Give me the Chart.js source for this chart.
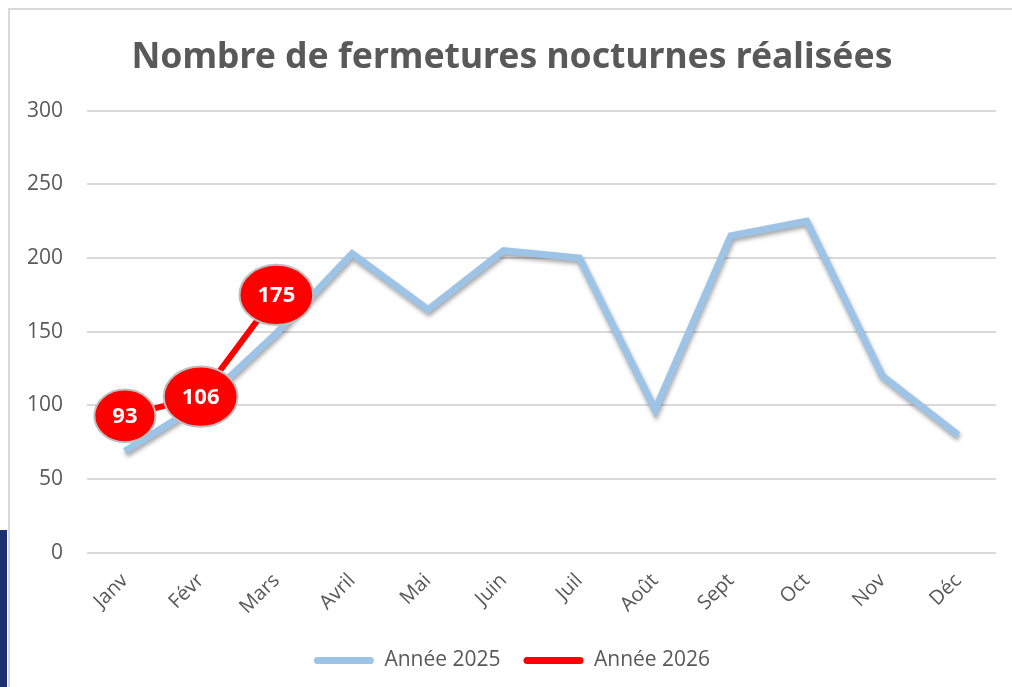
<!DOCTYPE html>
<html lang="fr">
<head>
<meta charset="UTF-8" />
<title>Nombre de fermetures nocturnes réalisées</title>
<style>
  html, body { margin: 0; padding: 0; background: #fff; width: 1012px; height: 687px; overflow: hidden; }
  .strip { position: absolute; left: 0; top: 530px; width: 7px; height: 157px; background: #1f3070; }
  .frame { position: absolute; left: 8px; top: 8px; width: 1010px; height: 690px; border-left: 2px solid #d9d9d9; border-top: 2px solid #d9d9d9; }
  .wrap { position: absolute; left: 10px; top: 10px; width: 1002px; height: 677px; }
  canvas { display: block; }
</style>
</head>
<body>
<div class="strip"></div>
<div class="frame"></div>
<div class="wrap"><canvas id="chart" width="1002" height="677"></canvas></div>
<script src="https://cdn.jsdelivr.net/npm/chart.js"></script>
<script>
const months = ['Janv', 'Févr', 'Mars', 'Avril', 'Mai', 'Juin', 'Juil', 'Août', 'Sept', 'Oct', 'Nov', 'Déc'];
const values2025 = [69, 101, 149, 203, 165, 205, 200, 97, 215, 225, 120, 80];
const values2026 = [93, 106, 175];
const yTicks = [0, 50, 100, 150, 200, 250, 300];

const blue = '#9dc3e6';
const red = '#ff0000';
const grey = '#595959';
const font = "'Open Sans', 'DejaVu Sans', sans-serif";
const titleFont = "'Noto Sans', 'DejaVu Sans', sans-serif";

// ombre légère sous la courbe 2025
const shadowPlugin = {
  id: 'shadow',
  beforeDatasetDraw(chart, args) {
    if (args.meta.label !== 'Année 2025') return;
    const ctx = chart.ctx;
    ctx.save();
    ctx.shadowColor = 'rgba(0, 0, 0, 0.35)';
    ctx.shadowBlur = 4;
    ctx.shadowOffsetX = 1;
    ctx.shadowOffsetY = 3;
  },
  afterDatasetDraw(chart, args) {
    if (args.meta.label !== 'Année 2025') return;
    chart.ctx.restore();
  }
};

// étiquettes ovales rouges pour 2026
const bubblePlugin = {
  id: 'bubbles',
  afterDatasetsDraw(chart) {
    const ctx = chart.ctx;
    const idx = chart.data.datasets.findIndex(d => d.label === 'Année 2026');
    const meta = chart.getDatasetMeta(idx);
    ctx.save();
    ctx.font = `bold 22px ${font}`;
    ctx.textAlign = 'center';
    ctx.textBaseline = 'middle';
    meta.data.forEach((pt, i) => {
      const txt = String(values2026[i]);
      const w = ctx.measureText(txt).width;
      const rx = w / 2 + 18;
      const ry = rx * 0.6 + 8;
      ctx.beginPath();
      ctx.ellipse(pt.x, pt.y, rx, ry, 0, 0, Math.PI * 2);
      ctx.fillStyle = red;
      ctx.fill();
      ctx.lineWidth = 2;
      ctx.strokeStyle = '#bfbfbf';
      ctx.stroke();
      ctx.fillStyle = '#ffffff';
      ctx.fillText(txt, pt.x, pt.y + 1);
    });
    ctx.restore();
  }
};

new Chart(document.getElementById('chart').getContext('2d'), {
  type: 'line',
  data: {
    labels: months,
    datasets: [
      {
        label: 'Année 2026',
        data: values2026,
        borderColor: red,
        backgroundColor: red,
        borderWidth: 6,
        pointRadius: 0,
        tension: 0
      },
      {
        label: 'Année 2025',
        data: values2025,
        borderColor: blue,
        backgroundColor: blue,
        borderWidth: 7,
        pointRadius: 0,
        tension: 0
      }
    ]
  },
  options: {
    responsive: false,
    animation: false,
    events: [],
    layout: { padding: { left: 18, right: 16, top: 27, bottom: 6 } },
    plugins: {
      title: {
        display: true,
        text: 'Nombre de fermetures nocturnes réalisées',
        color: grey,
        font: { family: titleFont, size: 35.5, weight: 'bold' },
        padding: { top: 0, bottom: 31 }
      },
      legend: {
        position: 'bottom',
        labels: {
          color: grey,
          font: { family: font, size: 21 },
          boxWidth: 60,
          boxHeight: 7,
          padding: 23,
          generateLabels(chart) {
            return ['Année 2025', 'Année 2026'].map(name => {
              const i = chart.data.datasets.findIndex(d => d.label === name);
              const ds = chart.data.datasets[i];
              return {
                text: name,
                fillStyle: ds.borderColor,
                strokeStyle: ds.borderColor,
                lineWidth: 0,
                borderRadius: 3.5,
                fontColor: grey,
                datasetIndex: i
              };
            });
          }
        }
      },
      tooltip: { enabled: false }
    },
    scales: {
      x: {
        offset: true,
        grid: { display: false },
        border: { display: false },
        ticks: {
          color: grey,
          font: { family: font, size: 20 },
          minRotation: 45,
          maxRotation: 45,
          padding: 8
        }
      },
      y: {
        min: yTicks[0],
        max: yTicks[yTicks.length - 1],
        afterBuildTicks(scale) { scale.ticks = yTicks.map(v => ({ value: v })); },
        afterFit(scale) { scale.width = 59; },
        grid: { color: '#d9d9d9', lineWidth: 2, drawTicks: false },
        border: { display: false },
        ticks: {
          color: grey,
          font: { family: font, size: 21 },
          padding: 24
        }
      }
    }
  },
  plugins: [shadowPlugin, bubblePlugin]
});
</script>
</body>
</html>
